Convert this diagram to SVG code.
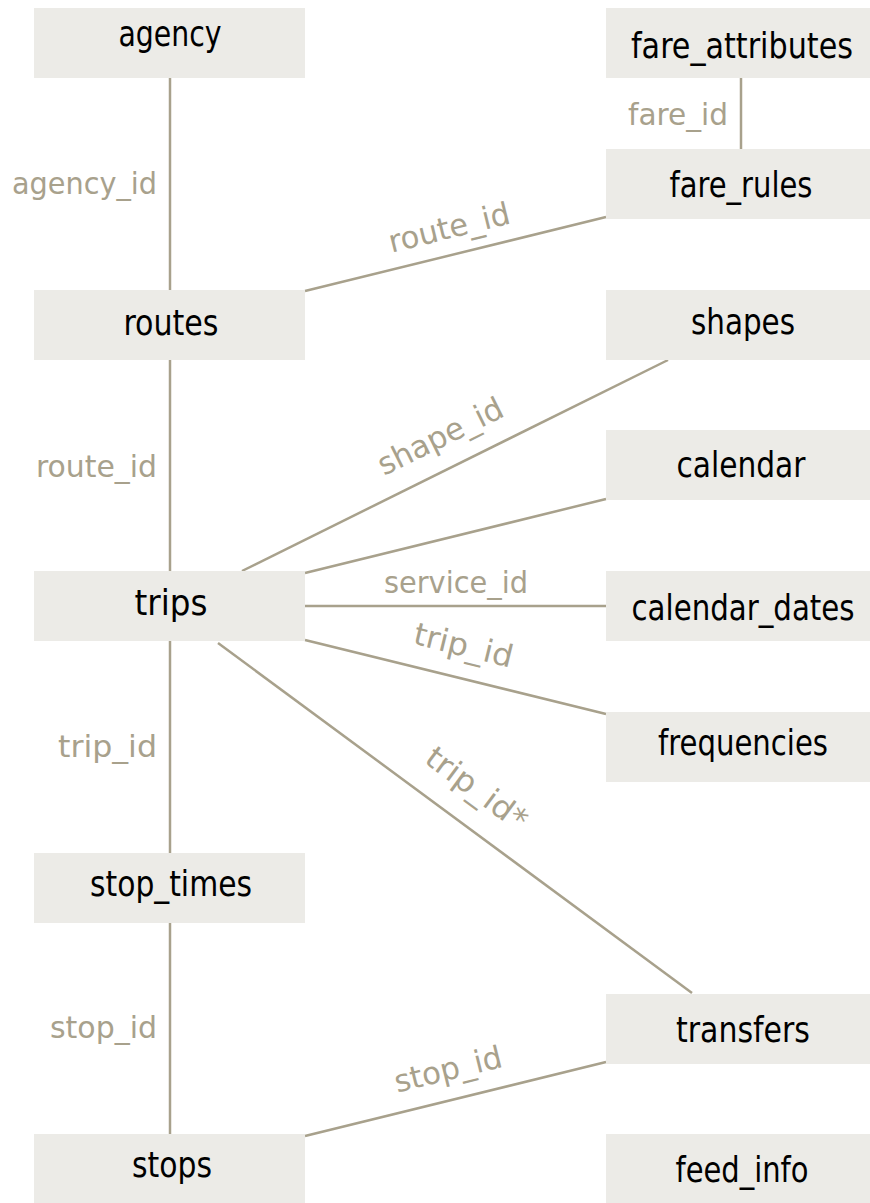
<svg xmlns="http://www.w3.org/2000/svg" width="870" height="1203" viewBox="0 0 870 1203">
<style>
.box{fill:#ecebe7}
.nt{font-family:"DejaVu Sans Condensed","DejaVu Sans",sans-serif;font-size:35px;fill:#000;text-anchor:middle}
.lt{font-family:"DejaVu Sans Condensed","DejaVu Sans",sans-serif;font-size:31px;fill:#a8a18c}
.ln{stroke:#a8a18c;stroke-width:2.5;fill:none}
</style>
<rect width="870" height="1203" fill="#fff"/>
<g id="connectors">
<line class="ln" x1="170" y1="78" x2="170" y2="290"/>
<line class="ln" x1="170" y1="360" x2="170" y2="571"/>
<line class="ln" x1="170" y1="641" x2="170" y2="853"/>
<line class="ln" x1="170" y1="923" x2="170" y2="1134"/>
<line class="ln" x1="741" y1="78" x2="741" y2="149"/>
<line class="ln" x1="305" y1="291" x2="606" y2="217"/>
<line class="ln" x1="242" y1="571" x2="668" y2="360"/>
<line class="ln" x1="305" y1="573" x2="606" y2="499"/>
<line class="ln" x1="305" y1="606" x2="606" y2="606"/>
<line class="ln" x1="305" y1="640" x2="606" y2="714"/>
<line class="ln" x1="218" y1="643" x2="692" y2="993"/>
<line class="ln" x1="305" y1="1136" x2="606" y2="1062"/>
<text class="lt" x="157" y="194" text-anchor="end" textLength="145" lengthAdjust="spacingAndGlyphs">agency_id</text>
<text class="lt" x="157" y="477" text-anchor="end" textLength="121" lengthAdjust="spacingAndGlyphs">route_id</text>
<text class="lt" x="157" y="757" text-anchor="end" textLength="99" lengthAdjust="spacingAndGlyphs">trip_id</text>
<text class="lt" x="157" y="1038" text-anchor="end" textLength="107" lengthAdjust="spacingAndGlyphs">stop_id</text>
<text class="lt" x="728" y="125" text-anchor="end" textLength="100" lengthAdjust="spacingAndGlyphs">fare_id</text>
<text class="lt" x="456" y="593" text-anchor="middle" textLength="144" lengthAdjust="spacingAndGlyphs">service_id</text>
<text class="lt" transform="translate(451.7,238) rotate(-13.8)" text-anchor="middle" textLength="124" lengthAdjust="spacingAndGlyphs">route_id</text>
<text class="lt" transform="translate(445,445.8) rotate(-26.35)" text-anchor="middle" textLength="136" lengthAdjust="spacingAndGlyphs">shape_id</text>
<text class="lt" transform="translate(461,655.6) rotate(13.8)" text-anchor="middle" textLength="101" lengthAdjust="spacingAndGlyphs">trip_id</text>
<text class="lt" transform="translate(470.4,797.1) rotate(36.45)" text-anchor="middle" textLength="118" lengthAdjust="spacingAndGlyphs">trip_id*</text>
<text class="lt" transform="translate(450.7,1079.6) rotate(-13.8)" text-anchor="middle" textLength="110" lengthAdjust="spacingAndGlyphs">stop_id</text>
</g>
<g id="agency"><rect class="box" x="34" y="8" width="271" height="70"/><text class="nt" x="170" y="46" textLength="103" lengthAdjust="spacingAndGlyphs">agency</text></g>
<g id="routes"><rect class="box" x="34" y="290" width="271" height="70"/><text class="nt" x="171" y="335" textLength="95" lengthAdjust="spacingAndGlyphs">routes</text></g>
<g id="trips"><rect class="box" x="34" y="571" width="271" height="70"/><text class="nt" x="171" y="615" textLength="73" lengthAdjust="spacingAndGlyphs">trips</text></g>
<g id="stop_times"><rect class="box" x="34" y="853" width="271" height="70"/><text class="nt" x="171" y="896" textLength="162" lengthAdjust="spacingAndGlyphs">stop_times</text></g>
<g id="stops"><rect class="box" x="34" y="1134" width="271" height="70"/><text class="nt" x="172" y="1177" textLength="80" lengthAdjust="spacingAndGlyphs">stops</text></g>
<g id="fare_attributes"><rect class="box" x="606" y="8" width="264" height="70"/><text class="nt" x="742" y="58" textLength="222" lengthAdjust="spacingAndGlyphs">fare_attributes</text></g>
<g id="fare_rules"><rect class="box" x="606" y="149" width="264" height="70"/><text class="nt" x="741" y="197" textLength="143" lengthAdjust="spacingAndGlyphs">fare_rules</text></g>
<g id="shapes"><rect class="box" x="606" y="290" width="264" height="70"/><text class="nt" x="743" y="334" textLength="104" lengthAdjust="spacingAndGlyphs">shapes</text></g>
<g id="calendar"><rect class="box" x="606" y="430" width="264" height="70"/><text class="nt" x="741" y="477" textLength="129" lengthAdjust="spacingAndGlyphs">calendar</text></g>
<g id="calendar_dates"><rect class="box" x="606" y="571" width="264" height="70"/><text class="nt" x="743" y="620" textLength="223" lengthAdjust="spacingAndGlyphs">calendar_dates</text></g>
<g id="frequencies"><rect class="box" x="606" y="712" width="264" height="70"/><text class="nt" x="743" y="755" textLength="170" lengthAdjust="spacingAndGlyphs">frequencies</text></g>
<g id="transfers"><rect class="box" x="606" y="994" width="264" height="70"/><text class="nt" x="743" y="1042" textLength="134" lengthAdjust="spacingAndGlyphs">transfers</text></g>
<g id="feed_info"><rect class="box" x="606" y="1134" width="264" height="70"/><text class="nt" x="742" y="1182" textLength="133" lengthAdjust="spacingAndGlyphs">feed_info</text></g>
</svg>
